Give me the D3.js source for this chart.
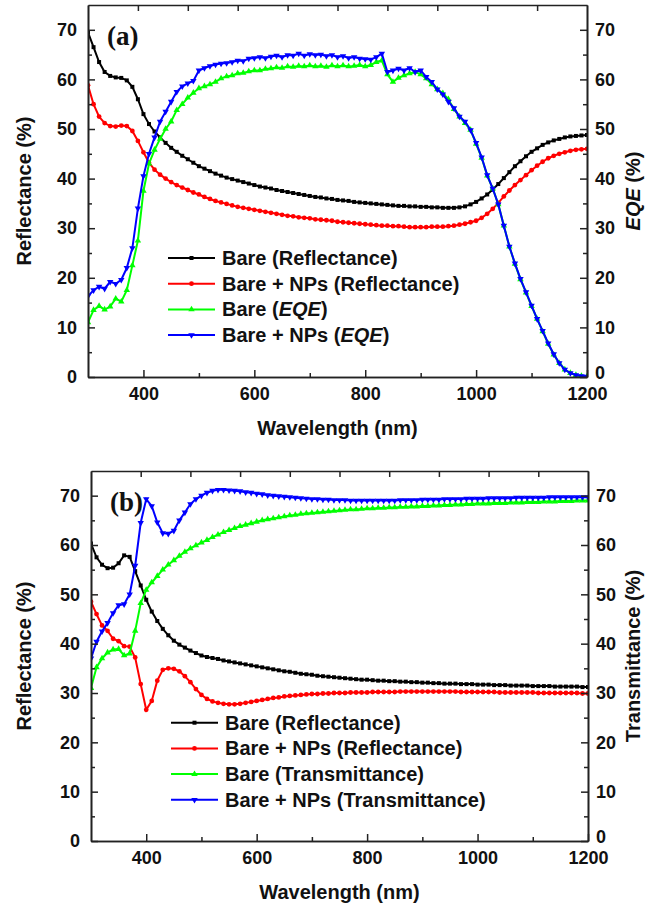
<!DOCTYPE html>
<html><head><meta charset="utf-8">
<script src="https://cdn.jsdelivr.net/npm/d3@7/dist/d3.min.js"></script>
<style>
body{margin:0;background:#fff}
svg{display:block}
text{font-family:"Liberation Sans",Arial,sans-serif;font-weight:bold;fill:#111}
</style></head>
<body><svg id="chart" width="646" height="907"></svg>
<script>
// ---------- DATA ----------
const wavelengths = [300,310,320,330,340,350,360,370,380,390,400,410,420,430,440,450,460,470,480,490,500,510,520,530,540,550,560,570,580,590,600,610,620,630,640,650,660,670,680,690,700,710,720,730,740,750,760,770,780,790,800,810,820,830,840,850,860,870,880,890,900,910,920,930,940,950,960,970,980,990,1000,1010,1020,1030,1040,1050,1060,1070,1080,1090,1100,1110,1120,1130,1140,1150,1160,1170,1180,1190,1200];

// Panel (a)
const aReflBare = [69.5,66.5,63.5,61.5,60.7,60.4,60.3,59.8,58.5,56.0, 53.0,51.0,49.5,48.3,47.2,46.2,45.4,44.6,43.9,43.2, 42.5,42.0,41.5,41.0,40.6,40.2,39.9,39.6,39.3,39.0, 38.7,38.4,38.2,38.0,37.7,37.5,37.3,37.1,36.9,36.7, 36.5,36.3,36.2,36.0,35.9,35.7,35.6,35.5,35.3,35.2, 35.1,35.0,34.9,34.8,34.7,34.6,34.5,34.5,34.4,34.4, 34.3,34.3,34.2,34.2,34.1,34.1,34.1,34.2,34.4,34.8, 35.3,36.0,36.8,37.8,38.9,40.1,41.3,42.5,43.5,44.5, 45.4,46.1,46.8,47.3,47.7,48.0,48.3,48.5,48.6,48.7, 48.8];
const aReflNPs = [58.8,55.0,52.5,51.2,50.6,50.5,50.7,50.6,49.6,47.6, 45.3,43.2,41.8,40.8,40.0,39.3,38.7,38.2,37.7,37.2, 36.8,36.3,35.9,35.5,35.2,34.9,34.6,34.3,34.1,33.9, 33.7,33.5,33.3,33.1,32.9,32.7,32.5,32.4,32.2,32.1, 32.0,31.8,31.7,31.6,31.5,31.3,31.2,31.1,31.0,30.9, 30.8,30.7,30.6,30.5,30.5,30.4,30.4,30.3,30.2,30.2, 30.2,30.2,30.3,30.3,30.3,30.4,30.5,30.7,30.9,31.2, 31.5,32.1,32.9,33.9,35.1,36.4,37.6,38.7,39.7,40.7, 41.7,42.6,43.4,44.1,44.6,45.0,45.3,45.6,45.8,45.9, 46.0];
const aEqeBare = [11.0,13.5,14.3,13.6,14.2,15.8,15.2,17.5,22.5,27.5, 37.5,43.0,45.8,48.0,50.0,51.5,53.8,55.0,56.3,57.3, 58.2,58.6,59.0,59.5,60.2,60.6,60.8,61.2,61.3,61.6, 61.8,61.8,62.1,62.2,62.4,62.3,62.6,62.5,62.7,62.6, 62.8,62.6,62.7,62.5,62.8,62.6,62.8,62.6,62.7,62.9, 62.6,62.9,63.5,63.8,61.0,59.5,60.3,60.8,61.2,61.5, 61.0,60.2,59.0,58.0,57.2,56.0,54.0,52.5,51.2,49.8, 47.0,44.2,40.6,38.0,34.8,30.5,26.3,22.8,19.7,17.0, 14.3,11.7,9.2,6.7,4.5,2.8,1.5,0.8,0.4,0.2, 0.1];
const aEqeNPs = [16.3,17.5,18.2,17.8,19.2,18.8,19.6,22.0,26.0,34.0, 40.5,45.0,48.3,51.5,53.5,55.5,57.5,58.6,59.2,59.7, 61.8,62.3,62.7,63.0,63.2,63.3,63.5,63.8,63.7,64.2, 64.3,64.5,64.3,64.6,64.8,64.5,64.9,64.8,65.2,64.8, 65.1,64.9,65.0,64.7,64.9,64.5,64.7,64.3,64.5,64.2, 64.1,64.0,64.5,65.2,61.5,61.8,62.2,61.8,62.3,61.5, 61.8,60.5,59.5,58.0,57.0,55.5,54.2,52.5,51.5,49.8, 47.2,44.3,40.7,38.0,34.8,30.5,26.3,22.9,19.8,17.1, 14.4,11.7,9.3,6.8,4.6,2.8,1.5,0.8,0.4,0.2, 0.1];

// Panel (b)
const bReflBare = [60.3,57.5,56.0,55.3,55.4,56.3,57.9,57.6,54.7,51.8, 48.9,46.5,44.6,43.0,41.7,40.6,39.8,39.2,38.6,38.1, 37.6,37.3,37.1,36.9,36.6,36.4,36.2,36.0,35.8,35.6, 35.4,35.2,35.0,34.8,34.6,34.4,34.3,34.1,33.9,33.8, 33.7,33.5,33.4,33.3,33.2,33.1,33.0,32.9,32.8,32.7, 32.7,32.6,32.5,32.5,32.4,32.4,32.3,32.3,32.2,32.2, 32.1,32.1,32.0,32.0,31.9,31.9,31.9,31.8,31.8,31.8, 31.7,31.7,31.7,31.6,31.6,31.6,31.5,31.5,31.5,31.5, 31.4,31.4,31.4,31.4,31.3,31.3,31.3,31.3,31.3,31.2, 31.2];
const bReflNPs = [48.5,46.0,43.7,42.6,41.0,40.5,39.5,39.4,37.2,31.8, 26.6,28.4,32.5,34.7,35.0,34.9,34.4,33.4,32.2,30.8, 29.6,28.8,28.3,28.0,27.8,27.7,27.7,27.8,28.0,28.2, 28.4,28.6,28.8,29.0,29.1,29.3,29.4,29.5,29.6,29.7, 29.8,29.8,29.9,29.9,30.0,30.0,30.0,30.1,30.1,30.1, 30.1,30.2,30.2,30.2,30.2,30.2,30.3,30.3,30.3,30.3, 30.3,30.3,30.3,30.3,30.3,30.3,30.3,30.2,30.2,30.2, 30.2,30.2,30.2,30.2,30.1,30.1,30.1,30.1,30.1,30.1, 30.1,30.0,30.0,30.0,30.0,30.0,30.0,30.0,30.0,29.9, 29.9];
const bTransBare = [31.0,35.2,37.0,38.2,38.8,38.9,37.6,38.0,42.6,48.2, 50.9,52.4,53.7,55.0,56.0,56.9,57.8,58.6,59.3,59.9, 60.5,61.0,61.6,62.1,62.6,63.0,63.4,63.8,64.1,64.4, 64.7,65.0,65.2,65.4,65.6,65.8,66.0,66.1,66.3,66.4, 66.5,66.6,66.7,66.8,66.9,67.0,67.1,67.2,67.2,67.3, 67.4,67.4,67.5,67.5,67.6,67.6,67.7,67.7,67.8,67.8, 67.9,67.9,68.0,68.0,68.1,68.1,68.2,68.2,68.3,68.3, 68.4,68.4,68.4,68.5,68.5,68.5,68.6,68.6,68.6,68.7, 68.7,68.7,68.8,68.8,68.8,68.9,68.9,68.9,69.0,69.0, 69.0];
const bTransNPs = [37.0,40.4,42.5,44.2,46.2,47.8,48.0,50.0,55.8,64.5, 69.3,67.9,64.6,62.4,62.3,62.9,65.0,66.6,68.3,69.3, 70.0,70.6,71.0,71.2,71.2,71.1,71.0,70.9,70.7,70.6, 70.4,70.3,70.1,70.0,69.9,69.8,69.7,69.6,69.5,69.4, 69.3,69.3,69.2,69.2,69.1,69.1,69.1,69.0,69.0,69.0, 69.0,69.0,69.0,69.0,69.0,69.0,69.1,69.1,69.1,69.1, 69.2,69.2,69.2,69.2,69.3,69.3,69.3,69.3,69.4,69.4, 69.4,69.4,69.5,69.5,69.5,69.5,69.5,69.6,69.6,69.6, 69.6,69.6,69.6,69.7,69.7,69.7,69.7,69.7,69.7,69.7, 69.7];

// Ticks
const xMajorTicks = [400,600,800,1000,1200];
const xMinorTicks = [500,700,900,1100];
const topTicks = [400,500,600,700,800,900,1000,1100,1200];
const yMajorTicks = [0,10,20,30,40,50,60,70];
const yMinorTicks = [5,15,25,35,45,55,65];

const legendA = ["Bare (Reflectance)","Bare + NPs (Reflectance)","Bare (EQE)","Bare + NPs (EQE)"];
const legendB = ["Bare (Reflectance)","Bare + NPs (Reflectance)","Bare (Transmittance)","Bare + NPs (Transmittance)"];

// ---------- STYLE ----------
const colors = ["#000000","#ff0000","#00ff00","#0000ff"];
const symbols = [
  {type:d3.symbolSquare, size:16, rot:0},
  {type:d3.symbolCircle, size:18, rot:0},
  {type:d3.symbolTriangle, size:18, rot:0},
  {type:d3.symbolTriangle, size:18, rot:180}
];

const svg = d3.select("#chart");

function drawPanel(p){
  const x = d3.scaleLinear().domain([300,1200]).range([p.l,p.r]);
  const xTop = d3.scaleLinear().domain([300,1300]).range([p.l,p.r]);
  const y = d3.scaleLinear().domain([0,75]).range([p.b,p.t]);
  const g = svg.append("g");

  // series
  const clipId = "clip"+p.id;
  svg.append("clipPath").attr("id",clipId).append("rect")
    .attr("x",p.l).attr("y",p.t).attr("width",p.r-p.l).attr("height",p.b-p.t);
  const sg = g.append("g").attr("clip-path",`url(#${clipId})`);
  const line = d3.line().x((d,i)=>x(wavelengths[i])).y(d=>y(d));
  p.series.forEach((vals,k)=>{
    sg.append("path").datum(vals).attr("d",line)
      .attr("fill","none").attr("stroke",colors[k]).attr("stroke-width",2);
    const sym = d3.symbol().type(symbols[k].type).size(symbols[k].size);
    sg.selectAll(null).data(vals).enter().append("path")
      .attr("d",sym)
      .attr("transform",(d,i)=>`translate(${x(wavelengths[i])},${y(d)}) rotate(${symbols[k].rot})`)
      .attr("fill",colors[k]);
  });

  // axes
  const axStyle = sel=>{
    sel.selectAll("path.domain").attr("stroke","#222").attr("stroke-width",1.6);
    sel.selectAll(".tick line").attr("stroke","#222").attr("stroke-width",1.5);
    sel.selectAll("text").style("font-family","'Liberation Sans',Arial,sans-serif")
      .style("font-weight","bold").style("font-size","18px").attr("fill","#111");
  };
  g.append("g").attr("transform",`translate(0,${p.b})`)
    .call(d3.axisBottom(x).tickValues(xMajorTicks).tickSizeInner(-7).tickSizeOuter(0).tickPadding(10).tickFormat(d3.format("d")))
    .call(axStyle);
  g.append("g").attr("transform",`translate(0,${p.b})`)
    .call(d3.axisBottom(x).tickValues(xMinorTicks).tickSizeInner(-4).tickSizeOuter(0).tickFormat(""))
    .call(axStyle);
  g.append("g").attr("transform",`translate(0,${p.t})`)
    .call(d3.axisTop(xTop).tickValues(topTicks).tickSizeInner(-6).tickSizeOuter(0).tickFormat(""))
    .call(axStyle);
  [["left",p.l,d3.axisLeft,11],["right",p.r,d3.axisRight,8]].forEach(([side,xx,axf,pad])=>{
    const ag = g.append("g").attr("transform",`translate(${xx},0)`)
      .call(axf(y).tickValues(yMajorTicks).tickSizeInner(-7).tickSizeOuter(0).tickPadding(pad))
      .call(axStyle);
    if(side==="right") ag.selectAll(".tick text").filter(d=>d===0).attr("dy","0.1em");
    g.append("g").attr("transform",`translate(${xx},0)`)
      .call(axf(y).tickValues(yMinorTicks).tickSizeInner(-4).tickSizeOuter(0).tickFormat(""))
      .call(axStyle);
  });

  // titles
  const cy = (p.t+p.b)/2;
  g.append("text").attr("transform",`translate(31,${cy}) rotate(-90)`)
    .attr("text-anchor","middle").style("font-size","20px").text(p.leftTitle);
  const rt = g.append("text").attr("transform",`translate(640,${cy}) rotate(-90)`)
    .attr("text-anchor","middle").style("font-size","20px");
  p.rightTitle.forEach(s=>rt.append("tspan").style("font-style",s.it?"italic":"normal").text(s.t));
  g.append("text").attr("x",(p.l+p.r)/2).attr("y",p.b+58)
    .attr("text-anchor","middle").style("font-size","20px").text("Wavelength (nm)");

  // panel label
  g.append("text").attr("x",p.l+19).attr("y",p.t+40)
    .style("font-family","'Liberation Serif','Times New Roman',serif").style("font-size","27px")
    .text(p.label);

  // legend
  p.legend.forEach((lab,k)=>{
    const ly = p.legY + k*25.7;
    g.append("line").attr("x1",p.legX).attr("x2",p.legX+47).attr("y1",ly).attr("y2",ly)
      .attr("stroke",colors[k]).attr("stroke-width",2);
    g.append("path").attr("d",d3.symbol().type(symbols[k].type).size(symbols[k].size)())
      .attr("transform",`translate(${p.legX+23.5},${ly}) rotate(${symbols[k].rot})`).attr("fill",colors[k]);
    const t = g.append("text").attr("x",p.legX+54).attr("y",ly+7).style("font-size","20px");
    const m = lab.match(/^(.*\()EQE(\))$/);
    if(m){
      t.append("tspan").text(m[1]);
      t.append("tspan").style("font-style","italic").text("EQE");
      t.append("tspan").text(m[2]);
    } else t.text(lab);
  });
}

drawPanel({id:"a", l:88, r:587, t:5, b:377, series:[aReflBare,aReflNPs,aEqeBare,aEqeNPs],
  label:"(a)", leftTitle:"Reflectance (%)", rightTitle:[{t:"EQE",it:true},{t:" (%)"}],
  legend:legendA, legX:168, legY:258});
drawPanel({id:"b", l:91, r:588, t:471, b:841, series:[bReflBare,bReflNPs,bTransBare,bTransNPs],
  label:"(b)", leftTitle:"Reflectance (%)", rightTitle:[{t:"Transmittance (%)"}],
  legend:legendB, legX:171, legY:722.7});
</script>
</body></html>
